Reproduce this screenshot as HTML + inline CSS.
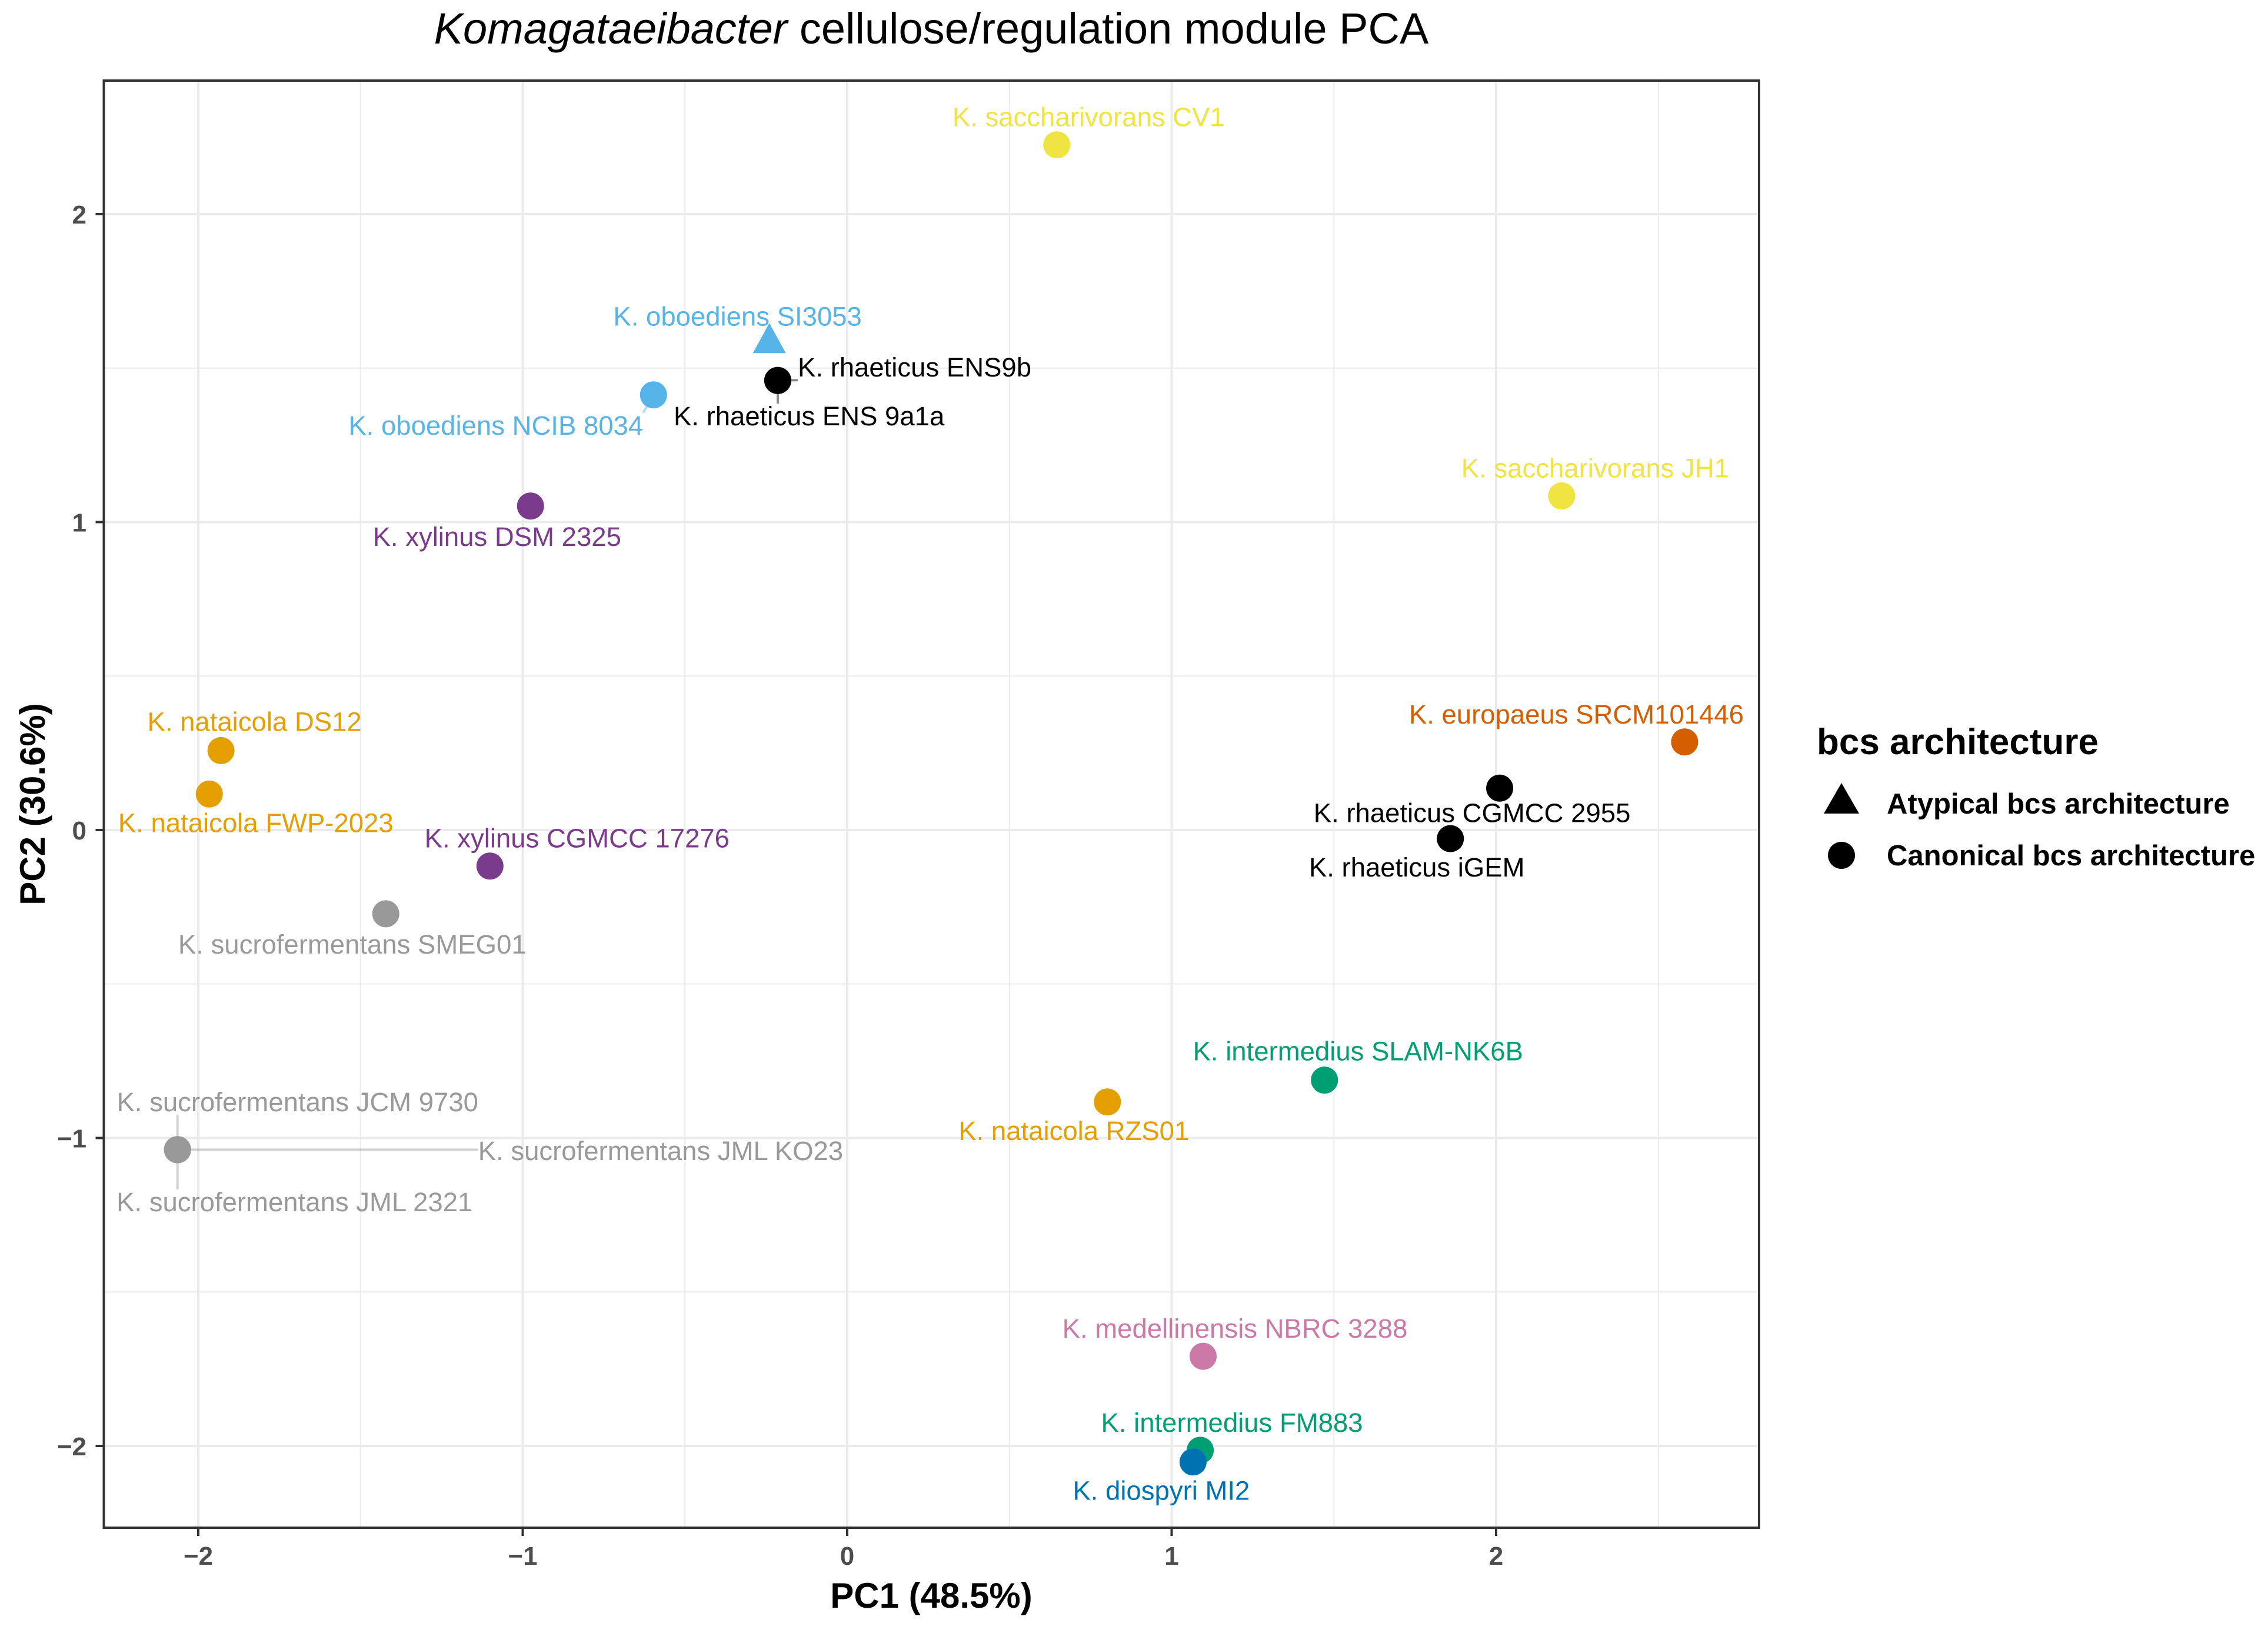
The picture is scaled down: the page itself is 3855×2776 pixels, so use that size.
<!DOCTYPE html>
<html><head><meta charset="utf-8"><style>
html,body{margin:0;padding:0;background:#fff;}
svg text{font-family:"Liberation Sans",Arial,sans-serif;}
</style></head><body>
<svg id="chart" width="3855" height="2771" viewBox="0 0 3855 2771" xmlns="http://www.w3.org/2000/svg">
<rect x="0" y="0" width="3855" height="2771" fill="#fff"/>
<text x="1583" y="74" text-anchor="middle" font-size="74" fill="#000"><tspan font-style="italic">Komagataeibacter</tspan> cellulose/regulation module PCA</text>
<g id="grid"></g>
<g id="segs"></g>
<g id="pts"></g>
<g id="labs"></g>
<rect x="176.5" y="137" width="2813.5" height="2460" fill="none" stroke="#333" stroke-width="4"/>
<g id="axes"></g>
<text x="1583" y="2733" text-anchor="middle" font-size="60" font-weight="bold" fill="#000">PC1 (48.5%)</text>
<text transform="translate(76,1367) rotate(-90)" text-anchor="middle" font-size="60" font-weight="bold" fill="#000">PC2 (30.6%)</text>
<g>
<text x="3088" y="1282" font-size="62" font-weight="bold" fill="#000">bcs architecture</text>
<polygon points="3130,1331 3160,1383 3100,1383" fill="#000"/>
<text x="3207" y="1383" font-size="49" font-weight="bold" fill="#000">Atypical bcs architecture</text>
<circle cx="3130" cy="1454" r="23" fill="#000"/>
<text x="3207" y="1471" font-size="49" font-weight="bold" fill="#000">Canonical bcs architecture</text>
</g>
</svg>
<script>
const names = ["K. saccharivorans CV1","K. oboediens SI3053","K. rhaeticus ENS9b","K. oboediens NCIB 8034","K. rhaeticus ENS 9a1a","K. saccharivorans JH1","K. xylinus DSM 2325","K. nataicola DS12","K. nataicola FWP-2023","K. europaeus SRCM101446","K. rhaeticus CGMCC 2955","K. rhaeticus iGEM","K. xylinus CGMCC 17276","K. sucrofermentans SMEG01","K. sucrofermentans JCM 9730","K. sucrofermentans JML KO23","K. sucrofermentans JML 2321","K. intermedius SLAM-NK6B","K. nataicola RZS01","K. medellinensis NBRC 3288","K. intermedius FM883","K. diospyri MI2"];
const pc1 = [0.646,-0.24,-0.214,-0.597,-0.214,2.202,-0.976,-1.93,-1.966,2.581,2.011,1.859,-1.101,-1.422,-2.064,-2.064,-2.064,1.471,0.802,1.097,1.088,1.066];
const pc2 = [2.225,1.587,1.46,1.413,1.46,1.085,1.052,0.258,0.117,0.286,0.136,-0.028,-0.117,-0.272,-1.038,-1.038,-1.038,-0.812,-0.883,-1.709,-2.014,-2.052];
const arch = ["Canonical","Atypical","Canonical","Canonical","Canonical","Canonical","Canonical","Canonical","Canonical","Canonical","Canonical","Canonical","Canonical","Canonical","Canonical","Canonical","Canonical","Canonical","Canonical","Canonical","Canonical","Canonical"];
const species = ["saccharivorans","oboediens","rhaeticus","oboediens","rhaeticus","saccharivorans","xylinus","nataicola","nataicola","europaeus","rhaeticus","rhaeticus","xylinus","sucrofermentans","sucrofermentans","sucrofermentans","sucrofermentans","intermedius","nataicola","medellinensis","intermedius","diospyri"];
const xTicks = [-2,-1,0,1,2];
const yTicks = [-2,-1,0,1,2];
const xTickLabels = ["\u22122","\u22121","0","1","2"];
const yTickLabels = ["\u22122","\u22121","0","1","2"];

const colors = {saccharivorans:"#F0E442",oboediens:"#56B4E9",rhaeticus:"#000000",xylinus:"#7B3B8C",nataicola:"#E69F00",europaeus:"#D55E00",sucrofermentans:"#999999",intermedius:"#009E73",medellinensis:"#CC79A7",diospyri:"#0072B2"};
const lo = [[54,-47,"middle"],[-54,-42,"middle"],[34,-22,"start"],[-268,52,"middle"],[-177,61,"start"],[57,-47,"middle"],[-57,52,"middle"],[57,-49,"middle"],[79,49,"middle"],[-184,-47,"middle"],[-47,42,"middle"],[-57,49,"middle"],[148,-47,"middle"],[-57,52,"middle"],[204,-81,"middle"],[511,2,"start"],[199,89,"middle"],[57,-49,"middle"],[-57,49,"middle"],[54,-47,"middle"],[54,-47,"middle"],[-54,49,"middle"]];

const L=176.5,R=2990,T=137,B=2597;
const X=v=>1440+v*551.5;
const Y=v=>1411-v*523.5;
const NS="http://www.w3.org/2000/svg";
function mk(tag,attrs,parent){const e=document.createElementNS(NS,tag);for(const k in attrs)e.setAttribute(k,attrs[k]);parent.appendChild(e);return e;}
const grid=document.getElementById('grid'),axes=document.getElementById('axes');
for(let v=-2.5;v<=3;v+=0.5){const x=X(v);if(x<L||x>R)continue;const major=Number.isInteger(v);
 const l=mk('line',{x1:x,x2:x,y1:T,y2:B,stroke:"#ebebeb","stroke-width":major?4:2},grid);
 
 }
for(let v=-2.5;v<=2.5;v+=0.5){const y=Y(v);if(y<T||y>B)continue;const major=Number.isInteger(v);
 const l=mk('line',{x1:L,x2:R,y1:y,y2:y,stroke:"#ebebeb","stroke-width":major?4:2},grid);
 
 }
xTicks.forEach((v,i)=>{const x=X(v);
 const t=mk('line',{x1:x,x2:x,y1:B,y2:B+14,stroke:"#333","stroke-width":4},axes);
 
 
 const tx=mk('text',{x:x,y:2660,"text-anchor":"middle","font-size":44,"font-weight":"bold",fill:"#4d4d4d"},axes);
 tx.textContent=xTickLabels[i];
 
 });
yTicks.forEach((v,i)=>{const y=Y(v);
 const t=mk('line',{x1:L-14,x2:L,y1:y,y2:y,stroke:"#333","stroke-width":4},axes);
 
 
 const tx=mk('text',{x:147,y:y+16,"text-anchor":"end","font-size":44,"font-weight":"bold",fill:"#4d4d4d"},axes);
 tx.textContent=yTickLabels[i];
 
 });
const pts=document.getElementById('pts'),labs=document.getElementById('labs'),segs=document.getElementById('segs');
names.forEach((n,i)=>{const cx=X(pc1[i]),cy=Y(pc2[i]);const c=colors[species[i]];
 let p;
 if(arch[i]==="Atypical"){p=mk('polygon',{points:`${cx},${cy-31} ${cx+28},${cy+20} ${cx-28},${cy+20}`,fill:c},pts);}
 else{p=mk('circle',{cx:cx,cy:cy,r:23,fill:c},pts);}
 
 
 const t=mk('text',{x:cx+lo[i][0],y:cy+lo[i][1],"text-anchor":lo[i][2],"dominant-baseline":"central","font-size":45.5,fill:c},labs);
 t.textContent=n;
 
 
 const bb=t.getBBox();
 const qx=Math.max(bb.x,Math.min(cx,bb.x+bb.width)),qy=Math.max(bb.y+4,Math.min(cy,bb.y+bb.height-4));
 const d=Math.hypot(qx-cx,qy-cy);
 if(d>34){const ux=(qx-cx)/d,uy=(qy-cy)/d;
  const s=mk('line',{x1:cx+ux*23,y1:cy+uy*23,x2:qx,y2:qy,stroke:c,"stroke-opacity":0.45,"stroke-width":4},segs);
  
  }
});
</script>
</body></html>
